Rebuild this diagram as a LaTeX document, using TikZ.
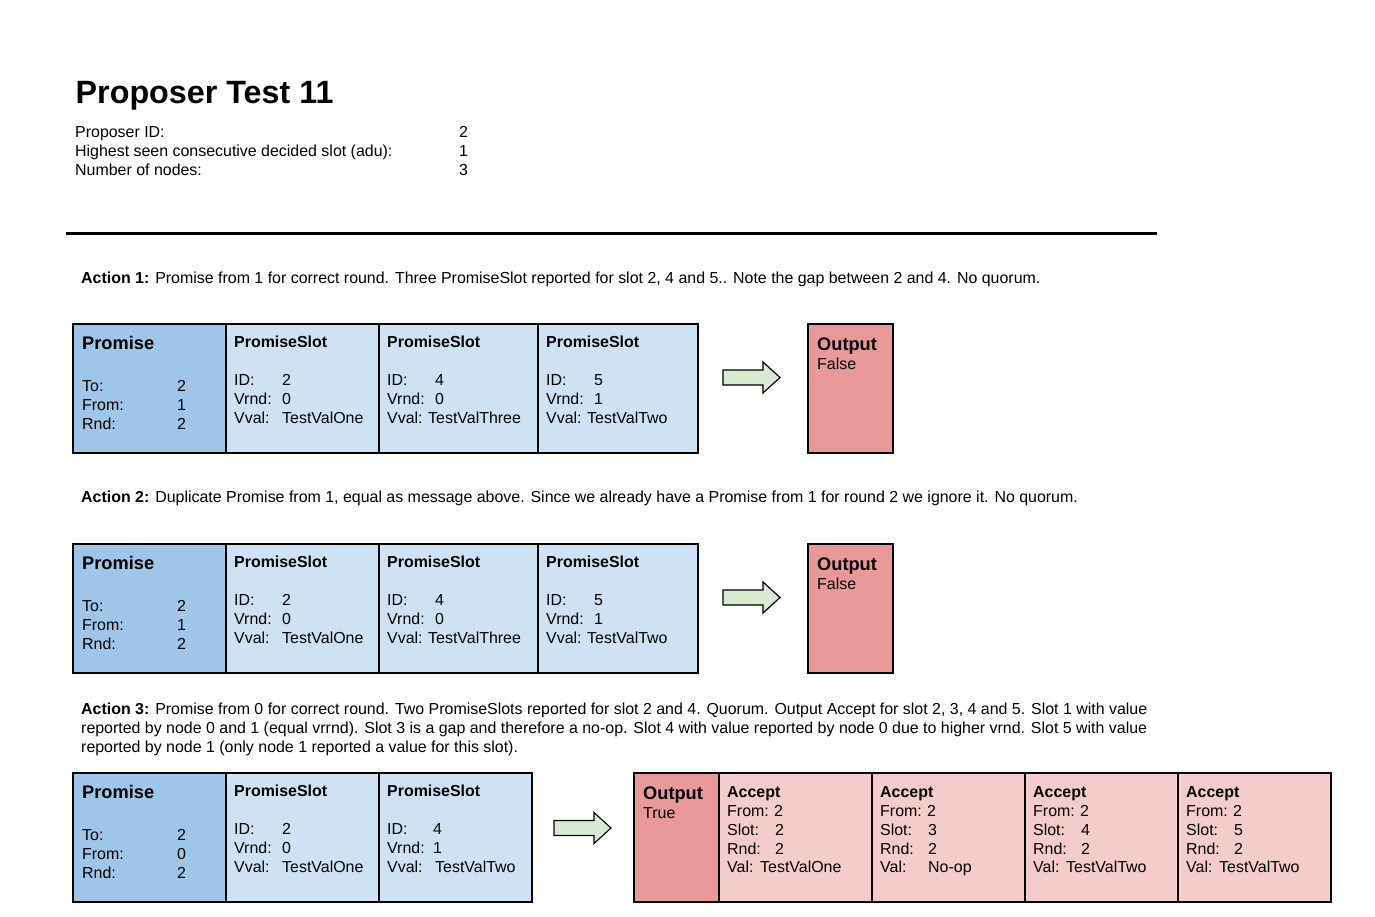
\documentclass[tikz,border=0pt]{standalone}
\usepackage{fontspec}
\setmainfont{Liberation Sans}
\definecolor{promdark}{HTML}{9FC5E8}
\definecolor{promlight}{HTML}{CFE2F3}
\definecolor{outred}{HTML}{EA9999}
\definecolor{acclight}{HTML}{F4CCCC}
\definecolor{arrgreen}{HTML}{D9EAD3}
\tikzset{
  txt/.style={anchor=base west, inner sep=0pt, font=\fontsize{16}{19}\selectfont},
  btxt/.style={anchor=base west, inner sep=0pt, font=\fontsize{16}{19}\selectfont\bfseries},
  bigtxt/.style={anchor=base west, inner sep=0pt, font=\fontsize{18.3}{22}\selectfont\bfseries},
  msgbox/.style={draw=black, line width=1.5bp, anchor=north west, inner sep=0pt, minimum height=129bp},
  blockarr/.style={draw=black, fill=arrgreen, line width=1.2bp, line join=miter},
}
% name, x, y, to, from, rnd
\newcommand\promisebox[6]{%
  \node[msgbox, fill=promdark, minimum width=153bp] (#1) at (#2,#3) {};
  \node[bigtxt] (#1t) at (#2+10,#3+26.5) {Promise};
  \node[txt] (#1a) at (#2+10,#3+68.5) {To:};
  \node[txt] (#1b) at (#2+10,#3+87.5) {From:};
  \node[txt] (#1c) at (#2+10,#3+106.5) {Rnd:};
  \node[txt] (#1av) at (#2+105,#3+68.5) {#4};
  \node[txt] (#1bv) at (#2+105,#3+87.5) {#5};
  \node[txt] (#1cv) at (#2+105,#3+106.5) {#6};
}
% name, x, y, width, id, vrnd, vval, id-offset, vval-offset
\newcommand\slotbox[9]{%
  \node[msgbox, fill=promlight, minimum width=#4bp] (#1) at (#2,#3) {};
  \node[btxt] (#1t) at (#2+9,#3+24.5) {PromiseSlot};
  \node[txt] (#1a) at (#2+9,#3+62.5) {ID:};
  \node[txt] (#1b) at (#2+9,#3+81.5) {Vrnd:};
  \node[txt] (#1c) at (#2+9,#3+100.5) {Vval:};
  \node[txt] (#1av) at (#2+#8,#3+62.5) {#5};
  \node[txt] (#1bv) at (#2+#8,#3+81.5) {#6};
  \node[txt] (#1cv) at (#2+#9,#3+100.5) {#7};
}
% name, x, y, width, value
\newcommand\outbox[5]{%
  \node[msgbox, fill=outred, minimum width=#4bp] (#1) at (#2,#3) {};
  \node[bigtxt] (#1t) at (#2+10,#3+27.5) {Output};
  \node[txt] (#1v) at (#2+10,#3+46.5) {#5};
}
% name, x, y, slot, val, val-offset
\newcommand\acceptbox[6]{%
  \node[msgbox, fill=acclight, minimum width=153bp] (#1) at (#2,#3) {};
  \node[btxt] (#1t) at (#2+9,#3+25.5) {Accept};
  \node[txt] (#1a) at (#2+9,#3+44.5) {From:};
  \node[txt] (#1b) at (#2+9,#3+63.5) {Slot:};
  \node[txt] (#1c) at (#2+9,#3+82) {Rnd:};
  \node[txt] (#1d) at (#2+9,#3+100.5) {Val:};
  \node[txt] (#1av) at (#2+56,#3+44.5) {2};
  \node[txt] (#1bv) at (#2+57,#3+63.5) {#4};
  \node[txt] (#1cv) at (#2+57,#3+82) {2};
  \node[txt] (#1dv) at (#2+#6,#3+100.5) {#5};
}
% name, x left, y centre
\newcommand\blockarrow[3]{%
  \coordinate (#1s) at (#2,#3);
  \coordinate (#1e) at (#2+57,#3);
  \draw[blockarr] (#1s) ++(0,-7.5) -- ++(40,0) -- ++(0,-8) -- (#1e)
    -- ++(-17,15.5) -- ++(0,-8) -- ++(-40,0) -- cycle;
}
\begin{document}
\begin{tikzpicture}[x=1bp,y=-1bp]
\fill[white] (0,0) rectangle (1375,916);
\useasboundingbox (0,0) rectangle (1375,916);

% header
\node[anchor=base west, inner sep=0pt, font=\fontsize{32.4}{36}\selectfont\bfseries] (title) at (75.5,103) {Proposer Test 11};
\node[txt] (h1) at (75,137.5) {Proposer ID:};
\node[txt] (h2) at (75,156.5) {Highest seen consecutive decided slot (adu):};
\node[txt] (h3) at (75,175.5) {Number of nodes:};
\node[txt] (h1v) at (459,137.5) {2};
\node[txt] (h2v) at (459,156.5) {1};
\node[txt] (h3v) at (459,175.5) {3};
\coordinate (ruleL) at (66,233);
\coordinate (ruleR) at (1157,233);
\draw[line width=3bp] (ruleL) -- (ruleR);

% Action 1
\node[txt] (act1) at (81,283.5) {\textbf{Action 1:} Promise from 1 for correct round. Three PromiseSlot reported for slot 2, 4 and 5.. Note the gap between 2 and 4. No quorum.};
\promisebox{p1}{72}{323}{2}{1}{2}
\slotbox{s1a}{225}{323}{153}{2}{0}{TestValOne}{57}{57}
\slotbox{s1b}{378}{323}{159}{4}{0}{TestValThree}{57}{50}
\slotbox{s1c}{537}{323}{160}{5}{1}{TestValTwo}{57}{50}
\blockarrow{a1}{723}{377.5}
\outbox{o1}{807}{323}{85}{False}

% Action 2
\node[txt] (act2) at (81,502.5) {\textbf{Action 2:} Duplicate Promise from 1, equal as message above. Since we already have a Promise from 1 for round 2 we ignore it. No quorum.};
\promisebox{p2}{72}{543}{2}{1}{2}
\slotbox{s2a}{225}{543}{153}{2}{0}{TestValOne}{57}{57}
\slotbox{s2b}{378}{543}{159}{4}{0}{TestValThree}{57}{50}
\slotbox{s2c}{537}{543}{160}{5}{1}{TestValTwo}{57}{50}
\blockarrow{a2}{723}{597.5}
\outbox{o2}{807}{543}{85}{False}

% Action 3
\node[txt] (act3a) at (81,714.5) {\textbf{Action 3:} Promise from 0 for correct round. Two PromiseSlots reported for slot 2 and 4. Quorum. Output Accept for slot 2, 3, 4 and 5. Slot 1 with value};
\node[txt] (act3b) at (81,733.5) {reported by node 0 and 1 (equal vrrnd). Slot 3 is a gap and therefore a no-op. Slot 4 with value reported by node 0 due to higher vrnd. Slot 5 with value};
\node[txt] (act3c) at (81,752.5) {reported by node 1 (only node 1 reported a value for this slot).};
\promisebox{p3}{72}{772}{2}{0}{2}
\slotbox{s3a}{225}{772}{153}{2}{0}{TestValOne}{57}{57}
\slotbox{s3b}{378}{772}{153}{4}{1}{TestValTwo}{55}{57}
\blockarrow{a3}{554}{828}
\outbox{o3}{633}{772}{85}{True}
\acceptbox{c1}{718}{772}{2}{TestValOne}{42}
\acceptbox{c2}{871}{772}{3}{No-op}{57}
\acceptbox{c3}{1024}{772}{4}{TestValTwo}{42}
\acceptbox{c4}{1177}{772}{5}{TestValTwo}{42}
\end{tikzpicture}
\end{document}
